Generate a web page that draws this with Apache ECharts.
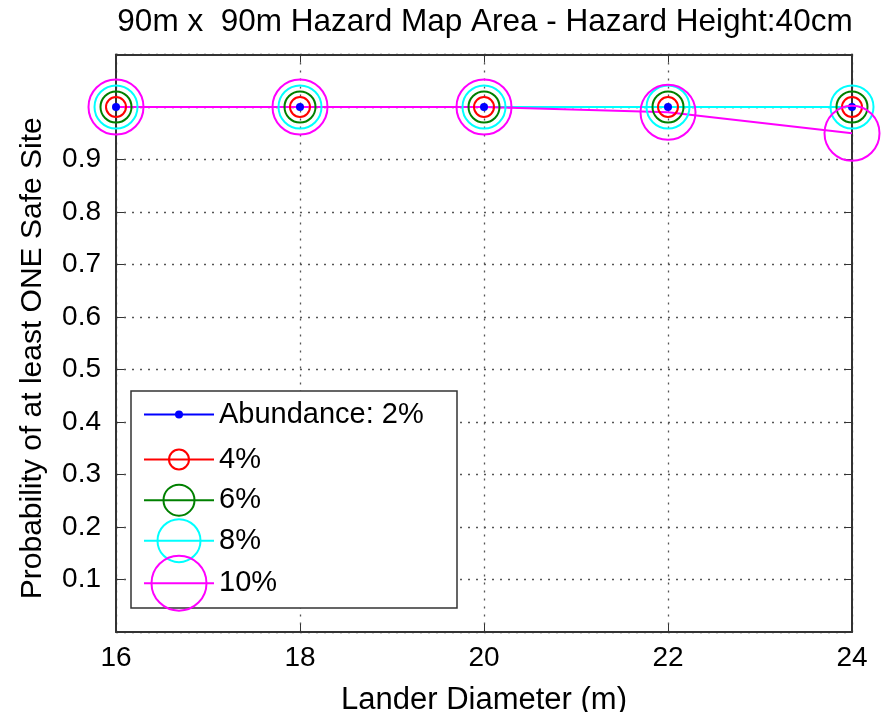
<!DOCTYPE html>
<html>
<head>
<meta charset="utf-8">
<script src="https://cdn.jsdelivr.net/npm/echarts@6/dist/echarts.min.js"></script>
<style>
  html, body { margin: 0; padding: 0; background: #fff; }
  #chart { width: 882px; height: 712px; }
</style>
</head>
<body>
<div id="chart"></div>
<script>
// lander diameter (m) on x
const diameters = [16, 18, 20, 22, 24]
// probability of at least one safe site, per rock abundance
const abundance2 = [1, 1, 1, 1, 1]
const abundance4 = [1, 1, 1, 1, 1]
const abundance6 = [1, 1, 1, 1, 1]
const abundance8 = [1, 1, 1, 1, 1]
const abundance10 = [1, 1, 1, 0.99, 0.95]
const seriesNames = ['Abundance: 2%', '4%', '6%', '8%', '10%']
const xTicks = [16, 18, 20, 22, 24]
const yTickLabels = ['0.1', '0.2', '0.3', '0.4', '0.5', '0.6', '0.7', '0.8', '0.9']

const FONT = 'Liberation Sans'
const colors = ['#0000ff', '#ff0000', '#008000', '#00ffff', '#ff00ff']
const symbolSizes = [8, 20, 31, 43, 55]
const legendRowY = [414, 459, 503, 545, 589]
const allValues = [abundance2, abundance4, abundance6, abundance8, abundance10]

const chart = echarts.init(document.getElementById('chart'))

const series = allValues.map((vals, i) => {
  const filled = i === 0
  return {
    name: seriesNames[i],
    type: 'line',
    data: diameters.map((d, k) => [d, vals[k]]),
    symbol: 'circle',
    symbolSize: symbolSizes[i],
    clip: false,
    lineStyle: { color: colors[i], width: 2 },
    itemStyle: filled
      ? { color: colors[i] }
      : { color: 'rgba(0,0,0,0)', borderColor: colors[i], borderWidth: 2 },
    emphasis: { disabled: true }
  }
})

// one legend per entry so each icon keeps its own marker size
const legends = seriesNames.map((n, i) => {
  const ih = symbolSizes[i] / 0.8
  return {
    data: [n],
    left: 143,
    top: legendRowY[i] - Math.max(ih, 28) / 2,
    padding: 0,
    itemWidth: 70,
    itemHeight: ih,
    z: 5,
    selectedMode: false,
    textStyle: { fontFamily: FONT, fontSize: 29, color: '#000' }
  }
})

const axisLineStyle = { color: '#333', width: 2 }
const gridLine = { show: true, lineStyle: { color: '#555', type: [2, 6], width: 1.3 } }

const option = {
  animation: false,
  backgroundColor: '#fff',
  grid: { left: 116, right: 30, top: 54.5, bottom: 80, containLabel: false, outerBoundsMode: 'none' },
  legend: legends,
  graphic: [
    {
      type: 'text',
      x: 485,
      y: 22,
      style: {
        text: '90m x  90m Hazard Map Area - Hazard Height:40cm',
        fontFamily: FONT,
        fontSize: 31.5,
        fill: '#000',
        align: 'center',
        verticalAlign: 'middle'
      }
    },
    {
      type: 'rect',
      z: 3,
      shape: { x: 131, y: 391, width: 326, height: 217 },
      style: { fill: '#fff', stroke: '#333', lineWidth: 1.5 }
    }
  ],
  xAxis: [
    {
      type: 'value',
      min: xTicks[0],
      max: xTicks[xTicks.length - 1],
      interval: 2,
      name: 'Lander Diameter (m)',
      nameLocation: 'middle',
      nameGap: 53,
      nameTextStyle: { fontFamily: FONT, fontSize: 31, color: '#000' },
      axisLine: { onZero: false, lineStyle: axisLineStyle },
      axisTick: { inside: true, length: 8, lineStyle: { color: '#333' } },
      axisLabel: { fontFamily: FONT, fontSize: 28, color: '#000', margin: 12 },
      splitLine: gridLine
    },
    {
      type: 'value',
      position: 'top',
      min: xTicks[0],
      max: xTicks[xTicks.length - 1],
      interval: 2,
      axisLine: { show: true, onZero: false, lineStyle: axisLineStyle },
      axisTick: { show: true, inside: true, length: 8, lineStyle: { color: '#333' } },
      axisLabel: { show: false },
      splitLine: { show: false }
    }
  ],
  yAxis: [
    {
      type: 'value',
      min: 0,
      max: 1.1,
      interval: 0.1,
      name: 'Probability of at least ONE Safe Site',
      nameLocation: 'middle',
      nameGap: 68,
      nameTextStyle: { fontFamily: FONT, fontSize: 30, color: '#000', padding: [0, 30, 0, 0] },
      axisLine: { show: true, onZero: false, lineStyle: axisLineStyle },
      axisTick: { show: true, inside: true, length: 8, lineStyle: { color: '#333' } },
      axisLabel: {
        fontFamily: FONT,
        fontSize: 28,
        color: '#000',
        margin: 15,
        formatter: v => {
          const s = v.toFixed(1)
          return yTickLabels.indexOf(s) >= 0 ? s : ''
        }
      },
      splitLine: gridLine
    },
    {
      type: 'value',
      position: 'right',
      min: 0,
      max: 1.1,
      interval: 0.1,
      axisLine: { show: true, onZero: false, lineStyle: axisLineStyle },
      axisTick: { show: true, inside: true, length: 8, lineStyle: { color: '#333' } },
      axisLabel: { show: false },
      splitLine: { show: false }
    }
  ],
  series: series
}

chart.setOption(option)
</script>
</body>
</html>
